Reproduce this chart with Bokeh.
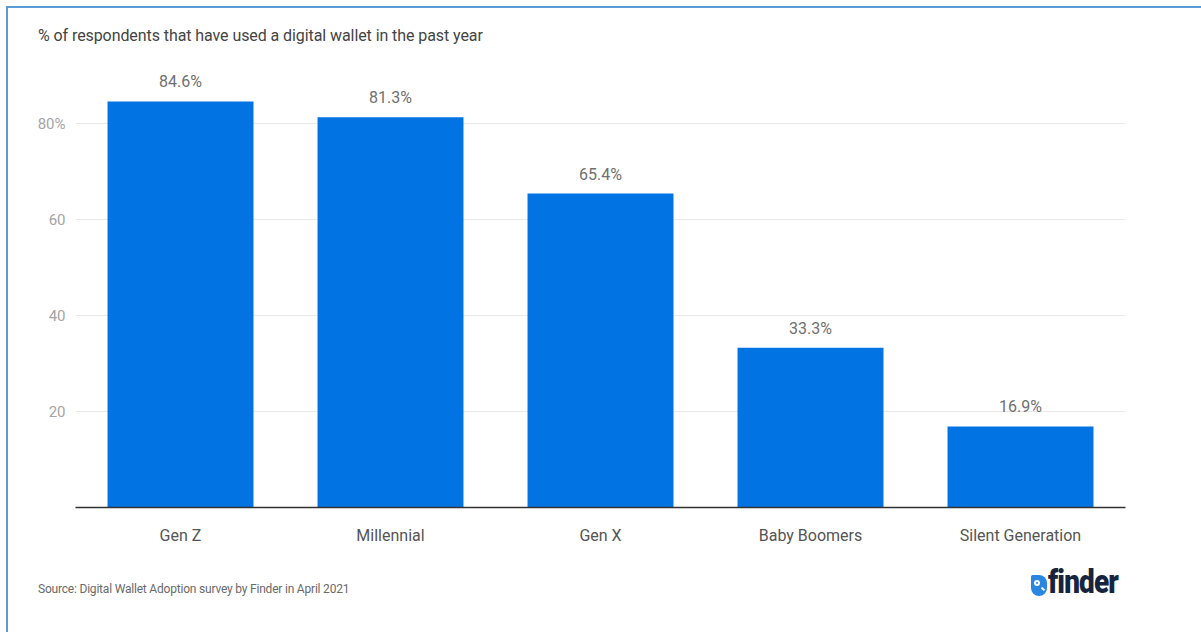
from bokeh.plotting import figure
from bokeh.models import Range1d, FixedTicker, ColumnDataSource, Div
from bokeh.layouts import column
from bokeh.core.properties import value
from bokeh.embed import file_html
from bokeh.resources import INLINE

categories = ["Gen Z", "Millennial", "Gen X", "Baby Boomers", "Silent Generation"]
values = [84.6, 81.3, 65.4, 33.3, 16.9]
value_labels = ["84.6%", "81.3%", "65.4%", "33.3%", "16.9%"]
y_ticks = [20, 40, 60, 80]
y_tick_labels = {20: "20", 40: "40", 60: "60", 80: "80%"}
title_text = "% of respondents that have used a digital wallet in the past year"
source_text = "Source: Digital Wallet Adoption survey by Finder in April 2021"
logo_text = "finder"

FONT = "Roboto"
BORDER = "#5B9BD5"

xs = list(range(len(categories)))
src = ColumnDataSource(dict(x=xs, top=values, lab=value_labels))

p = figure(width=1193, height=497, output_backend="svg", toolbar_location=None,
           x_range=Range1d(-0.5, 4.5), y_range=Range1d(0, 91.46),
           min_border_left=67, min_border_right=76, min_border_top=5, min_border_bottom=53)
p.outline_line_color = None
p.background_fill_color = "white"
p.border_fill_color = "white"

p.vbar(x="x", top="top", width=0.695, bottom=0, source=src, color="#0273E3", line_color=None)
p.text(x="x", y="top", text="lab", source=src, text_align="center", text_baseline="bottom",
       y_offset=-10, text_font=value(FONT), text_font_size="16px", text_color="#707070")

# x axis
p.xaxis.ticker = FixedTicker(ticks=xs)
p.xaxis.major_label_overrides = {i: c for i, c in enumerate(categories)}
p.xaxis.major_tick_line_color = None
p.xaxis.minor_tick_line_color = None
p.xaxis.axis_line_color = "#333333"
p.xaxis.axis_line_width = 1.5
p.xaxis.major_label_text_font = FONT
p.xaxis.major_label_text_font_size = "16px"
p.xaxis.major_label_text_color = "#555555"
p.xaxis.major_label_standoff = 12
p.xgrid.grid_line_color = None

# y axis
p.yaxis.ticker = FixedTicker(ticks=y_ticks)
p.yaxis.major_label_overrides = y_tick_labels
p.yaxis.axis_line_color = None
p.yaxis.major_tick_line_color = None
p.yaxis.minor_tick_line_color = None
p.yaxis.major_label_text_font = FONT
p.yaxis.major_label_text_font_size = "15px"
p.yaxis.major_label_text_color = "#a4a4a4"
p.yaxis.major_label_standoff = 4
p.ygrid.grid_line_color = "#e8e8e8"
p.ygrid.ticker = FixedTicker(ticks=y_ticks)

title_div = Div(
    text=f'<div style="position:absolute;left:30px;top:17px;white-space:nowrap;'
         f'font-family:Roboto;font-size:16px;color:#444;letter-spacing:-0.08px">{title_text}</div>',
    width=1193, height=55, margin=(0, 0, 0, 0), styles={"position": "relative"})

icon = ('<span style="position:absolute;left:1023px;top:15px;width:16px;height:21px;'
        'background:#2a86e0;border-radius:2px 9px 9px 9px">'
        '<span style="position:absolute;left:3px;top:5px;width:6px;height:6px;'
        'border:2px solid white;border-radius:50%"></span>'
        '<span style="position:absolute;left:10px;top:13px;width:4px;height:2px;'
        'background:white;transform:rotate(45deg)"></span></span>')
logo = (f'<span style="position:absolute;left:1040px;top:4px;white-space:nowrap;'
        f'font-family:Roboto;font-weight:900;font-size:34px;line-height:34px;color:#17243d;'
        f'letter-spacing:-1px;transform:scaleX(0.82);transform-origin:0 0">{logo_text}</span>')

bottom_div = Div(
    text=f'<div style="position:absolute;left:30px;top:21px;white-space:nowrap;'
         f'font-family:Roboto;font-size:12px;color:#6a6a6a;letter-spacing:-0.2px">{source_text}</div>'
         + icon + logo,
    width=1193, height=72, margin=(0, 0, 0, 0), styles={"position": "relative"})

layout = column(title_div, p, bottom_div, margin=(6, 0, 0, 6), spacing=0,
                styles={"border-top": f"2px solid {BORDER}", "border-left": f"2px solid {BORDER}"})

open("out.html", "w").write(file_html(layout, INLINE))
